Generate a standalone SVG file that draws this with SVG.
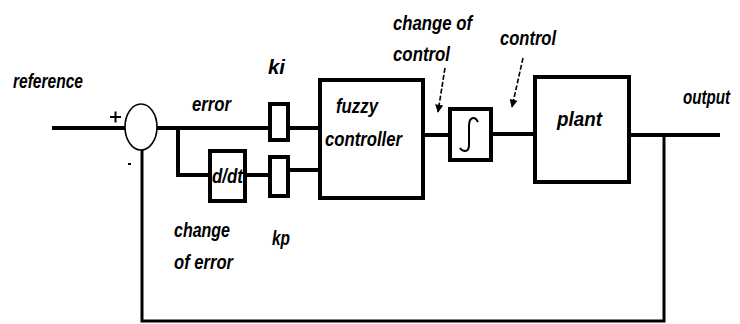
<svg xmlns="http://www.w3.org/2000/svg" width="740" height="324" viewBox="0 0 740 324">
<defs>
<style>
.t{font-family:"Liberation Sans",Arial,sans-serif;font-weight:bold;font-style:italic;font-size:21px;fill:#000}
.b{fill:#fff;stroke:#000;stroke-width:4}
.w{fill:none;stroke:#000;stroke-width:4}
.fb{fill:none;stroke:#000;stroke-width:3}
.ar{fill:none;stroke:#000;stroke-width:1.6;stroke-dasharray:5,2;marker-end:url(#ah)}
</style>
<marker id="ah" viewBox="0 0 10 10" refX="9" refY="5" markerWidth="6" markerHeight="5" orient="auto" markerUnits="strokeWidth">
<path d="M0,0 L10,5 L0,10 z" fill="#000"/>
</marker>
</defs>
<rect width="740" height="324" fill="#fff"/>
<g id="connectors">
<path class="w" d="M52,128 H125"/>
<path class="w" d="M157,128 H270"/>
<path class="w" d="M178,128 V175 H210"/>
<path class="w" d="M245,175 H270"/>
<path class="w" d="M288,128 H320"/>
<path class="w" d="M288,170 H320"/>
<path class="w" d="M423,135 H450"/>
<path class="w" d="M491,134 H535"/>
<path class="w" d="M629,135 H720"/>
<path class="fb" d="M664,135 V321 H142 V150"/>
<path class="ar" d="M445,68 L438,112"/>
<path class="ar" d="M523,58 L512,107"/>
</g>
<g id="sum">
<ellipse cx="141" cy="127" rx="16" ry="23" fill="#fff" stroke="#000" stroke-width="1.6"/>
<path d="M110,117 H121 M115.5,111.5 V122.5 M128,164 H131" stroke="#000" stroke-width="2" fill="none"/>
</g>
<g id="ddt">
<rect class="b" x="210" y="151" width="35" height="50"/>
<text class="t" x="212" y="183" font-size="17" textLength="31" lengthAdjust="spacingAndGlyphs">d/dt</text>
</g>
<g id="ki">
<rect class="b" x="270" y="104" width="18" height="36"/>
</g>
<g id="kp">
<rect class="b" x="270" y="157" width="18" height="39"/>
</g>
<g id="fuzzy">
<rect class="b" x="320" y="80" width="103" height="118"/>
<text class="t" x="336" y="113" textLength="42" lengthAdjust="spacingAndGlyphs">fuzzy</text>
<text class="t" x="325" y="146" textLength="77" lengthAdjust="spacingAndGlyphs">controller</text>
</g>
<g id="saturation">
<rect class="b" x="450" y="109" width="41" height="51"/>
<path d="M478,122 Q475,116 471,119 Q469,121 469,126 V145 Q469,151 465,151 Q462,151 460,148" fill="none" stroke="#000" stroke-width="2"/>
</g>
<g id="plant">
<rect class="b" x="535" y="77" width="94" height="105"/>
<text class="t" x="557" y="126" textLength="45" lengthAdjust="spacingAndGlyphs">plant</text>
</g>
<g id="labels">
<text class="t" x="13" y="88" textLength="70" lengthAdjust="spacingAndGlyphs">reference</text>
<text class="t" x="192" y="111" textLength="39" lengthAdjust="spacingAndGlyphs">error</text>
<text class="t" x="268" y="74" textLength="17" lengthAdjust="spacingAndGlyphs">ki</text>
<text class="t" x="272" y="245" textLength="18" lengthAdjust="spacingAndGlyphs">kp</text>
<text class="t" x="174" y="237" textLength="56" lengthAdjust="spacingAndGlyphs">change</text>
<text class="t" x="174" y="269" textLength="59" lengthAdjust="spacingAndGlyphs">of error</text>
<text class="t" x="393" y="30" textLength="79" lengthAdjust="spacingAndGlyphs">change of</text>
<text class="t" x="393" y="61" textLength="57" lengthAdjust="spacingAndGlyphs">control</text>
<text class="t" x="500" y="45" textLength="56" lengthAdjust="spacingAndGlyphs">control</text>
<text class="t" transform="translate(683,104) scale(0.72,1)" x="0" y="0">output</text>
</g>
</svg>
